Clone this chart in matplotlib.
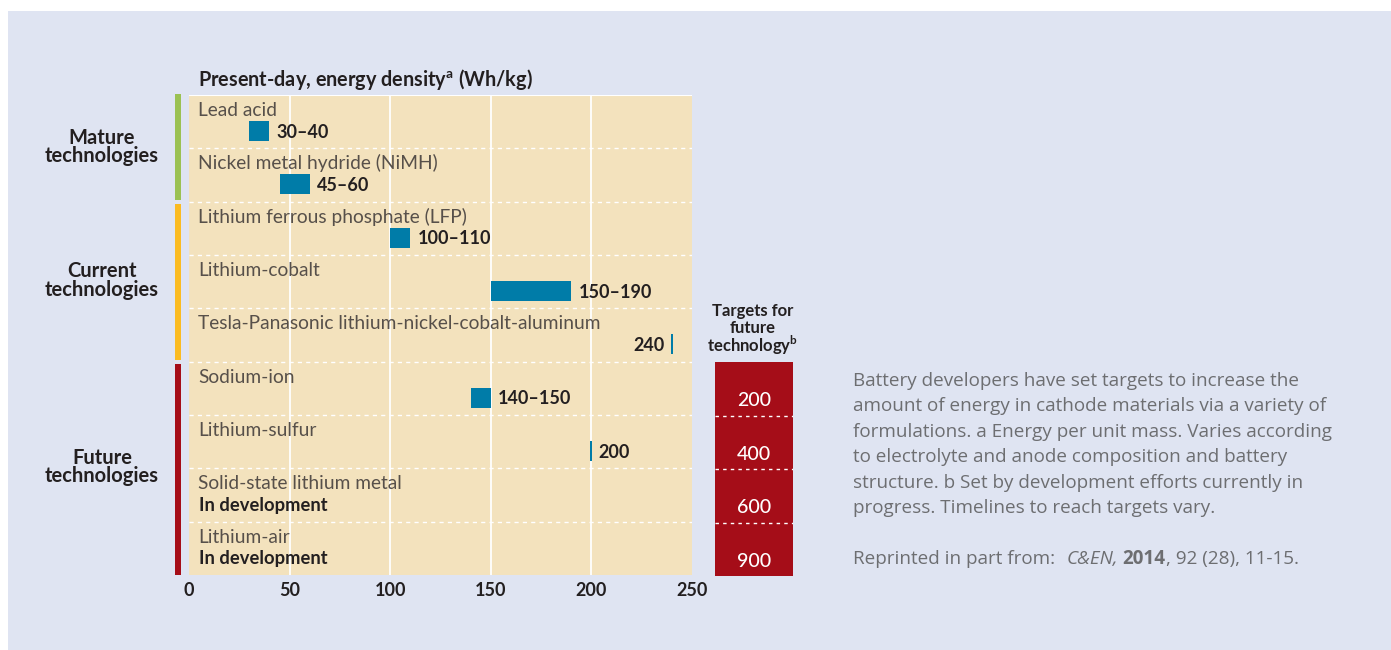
import matplotlib
matplotlib.use("Agg")
import matplotlib.pyplot as plt
from matplotlib.patches import Rectangle
from matplotlib.transforms import blended_transform_factory

plt.rcParams['font.family'] = ['Lato', 'DejaVu Sans']
plt.rcParams['mathtext.fontset'] = 'custom'
plt.rcParams['mathtext.rm'] = 'Lato'
plt.rcParams['mathtext.bf'] = 'Lato:bold'

# energy density per technology (Wh/kg), low and high end of range
names = ["Lead acid", "Nickel metal hydride (NiMH)", "Lithium ferrous phosphate (LFP)",
         "Lithium-cobalt", "Tesla-Panasonic lithium-nickel-cobalt-aluminum",
         "Sodium-ion", "Lithium-sulfur", "Solid-state lithium metal", "Lithium-air"]
low = [30, 45, 100, 150, 240, 140, 200, None, None]
high = [40, 60, 110, 190, 240, 150, 200, None, None]
targets = [None, None, None, None, None, 200, 400, 600, 900]

group_names = [("Mature", "technologies"), ("Current", "technologies"), ("Future", "technologies")]
group_rows = [(0, 2), (2, 5), (5, 9)]
group_colors = ["#9bc153", "#fbbb21", "#a50d18"]

xticks = [0, 50, 100, 150, 200, 250]

caption = ["Battery developers have set targets to increase the",
           "amount of energy in cathode materials via a variety of",
           "formulations. a Energy per unit mass. Varies according",
           "to electrolyte and anode composition and battery",
           "structure. b Set by development efforts currently in",
           "progress. Timelines to reach targets vary."]

W, H = 1391, 650
PANEL = "#dfe4f2"
BEIGE = "#f3e2bd"
BLUE = "#007ca8"
RED = "#a50d18"
DARK = "#231f20"
NAME = "#57504a"
GREY = "#6d6e71"


def fx(px):
    return px / W


def fy(py):
    return 1 - py / H


fig = plt.figure(figsize=(W / 100, H / 100), dpi=100, facecolor="white")
fig.patches.append(Rectangle((fx(8), 0), 1 - fx(8), fy(11), transform=fig.transFigure,
                             facecolor=PANEL, edgecolor="none", zorder=-10))

# main panel
ax = fig.add_axes([fx(189), fy(575), (692 - 189) / W, (575 - 95) / H])
ax.set_facecolor(BEIGE)
ax.set_xlim(0, 250)
ax.set_ylim(9, 0)
for s in ax.spines.values():
    s.set_visible(False)
ax.set_yticks([])
ax.set_xticks(xticks)
ax.set_xticklabels([str(t) for t in xticks], fontsize=13, fontweight="bold", color=DARK)
ax.tick_params(axis="x", length=0, pad=5)
for t in xticks[1:-1]:
    ax.axvline(t, color="white", lw=1.3, zorder=1)
for r in range(1, 9):
    ax.axhline(r, color="white", lw=1, dashes=(3, 3), zorder=1)
ax.axhline(0, color="white", lw=1.5, zorder=1)

n = len(names)
for i in range(n):
    ax.text(4.5, i + 0.394, names[i], fontsize=13.8, color=NAME, va="baseline", ha="left")
    if low[i] is None:
        ax.text(5, i + 0.80, "In development", fontsize=13.2, fontweight="bold",
                color=DARK, va="baseline", ha="left")
        continue
    w = high[i] - low[i]
    if w == 0:
        ax.barh(i + 0.675, 1.0, left=low[i] - 0.5, height=0.375, color=BLUE, zorder=3)
    else:
        ax.barh(i + 0.675, w, left=low[i], height=0.375, color=BLUE, zorder=3)
    if low[i] == high[i]:
        lab = str(low[i])
    else:
        lab = f"{low[i]}\u2013{high[i]}"
    if high[i] + 40 > 250:
        ax.text(low[i] - 3.5, i + 0.80, lab, fontsize=13, fontweight="bold", color=DARK,
                va="baseline", ha="right")
    else:
        ax.text(high[i] + 3.5, i + 0.80, lab, fontsize=13, fontweight="bold", color=DARK,
                va="baseline", ha="left")

# group markers and labels on the left
tr = blended_transform_factory(ax.transAxes, ax.transData)
for (l1, l2), (r0, r1), c in zip(group_names, group_rows, group_colors):
    top = r0 + (0.04 if r0 > 0 else -0.02)
    bot = r1 - (0.03 if r1 < 9 else 0)
    ax.add_patch(Rectangle((-14 / 503, top), 6 / 503, bot - top, transform=tr,
                           facecolor=c, edgecolor="none", clip_on=False))
    mid_px = 95 + (r0 + r1) / 2 * (480 / 9)
    fig.text(fx(102), fy(mid_px - 4.5), l1, fontsize=14.5, fontweight="bold", color=DARK,
             ha="center", va="baseline")
    fig.text(fx(102), fy(mid_px + 14), l2, fontsize=14.5, fontweight="bold", color=DARK,
             ha="center", va="baseline")

fig.text(fx(198), fy(86), r"Present-day, energy density$^{\mathbf{a}}$ (Wh/kg)",
         fontsize=14.3, fontweight="bold", color=DARK, ha="left", va="baseline")

# target column
ax2 = fig.add_axes([fx(715), fy(576), 78 / W, (576 - 95) / H])
ax2.set_xlim(0, 1)
ax2.set_ylim(9, 0)
ax2.axis("off")
rows_t = [i for i in range(n) if targets[i] is not None]
ax2.barh((rows_t[0] + n) / 2, 1, left=0, height=n - rows_t[0], color=RED)
for r in rows_t[1:]:
    ax2.axhline(r, color="white", lw=1, dashes=(2.5, 3))
for r in rows_t:
    ax2.text(0.5, r + 0.825, str(targets[r]), fontsize=14, fontweight="medium",
             color="white", ha="center", va="baseline")

fig.text(fx(753), fy(316), "Targets for", fontsize=12, fontweight="bold", color=DARK,
         ha="center", va="baseline")
fig.text(fx(753), fy(333), "future", fontsize=12, fontweight="bold", color=DARK,
         ha="center", va="baseline")
fig.text(fx(753), fy(352), r"technology$^{\mathbf{b}}$", fontsize=12, fontweight="bold",
         color=DARK, ha="center", va="baseline")

# caption on the right
cap_font = ["Open Sans", "DejaVu Sans"]
for k, line in enumerate(caption):
    fig.text(fx(853), fy(386 + k * 25.4), line, fontsize=13.6, color=GREY,
             family=cap_font, ha="left", va="baseline")

renderer = fig.canvas.get_renderer()
runs = [("Reprinted in part from:", {}, 11),
        ("C&EN,", {"style": "italic"}, 5),
        ("2014", {"fontweight": "bold"}, 0),
        (", 92 (28), 11-15.", {}, 0)]
x = 853
for s, props, gap in runs:
    t = fig.text(fx(x), fy(564), s, fontsize=13.6, color=GREY, family=cap_font,
                 ha="left", va="baseline", **props)
    x = t.get_window_extent(renderer).x1 + gap

fig.savefig("out.png", dpi=100, facecolor="white")
